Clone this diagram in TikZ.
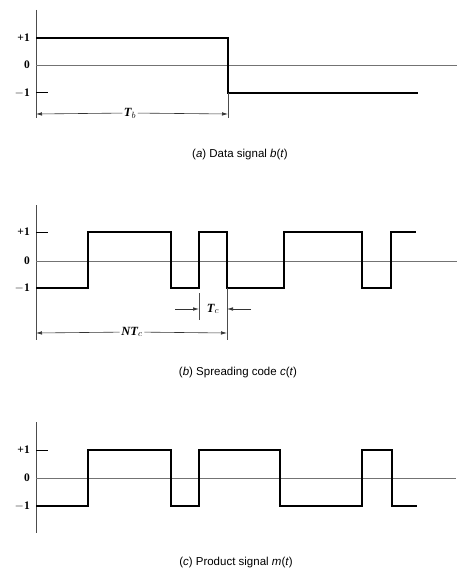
\documentclass[tikz,border=0pt]{standalone}
\usepackage{fontspec}
\setmainfont{Liberation Serif}
\newfontfamily\capfont{Liberation Sans}
\usetikzlibrary{arrows.meta}
\begin{document}
\begin{tikzpicture}[x=1pt,y=-1pt,
  axisline/.style={draw=black!70,line width=0.7pt},
  zeroline/.style={draw=black!55,line width=0.6pt},
  sig/.style={draw=black,line width=1.8pt,line join=miter},
  tickl/.style={draw=black,line width=1pt},
  dim/.style={draw=black!80,line width=0.6pt,-{Latex[length=6pt,width=3.5pt]}},
  vlab/.style={font=\fontsize{11.5}{13}\selectfont\bfseries,anchor=east,inner sep=1pt},
  caplab/.style={font=\capfont\fontsize{11.5}{13}\selectfont},
  dimlab/.style={font=\fontsize{12.5}{14}\selectfont\itshape\bfseries,fill=white,inner sep=1.5pt}]
\useasboundingbox (0,0) rectangle (462,577);
% ---------- (a) ----------
\draw[axisline] (36,10) -- (36,118);
\draw[zeroline] (36,65) -- (457,65);
\node[vlab] (ap) at (31,38) {+1};
\node[vlab] (az) at (31,65) {0};
\node[vlab] (am) at (31,93) {$-$1};
\draw[tickl] (36,93) -- (48,93);
\draw[sig] (36,38) -- (228,38) -- (228,93) -- (418,93);
\draw[axisline] (228,93) -- (228,118);
\coordinate (tbL) at (36,114);
\coordinate (tbR) at (228,114);
\node[dimlab] (tb) at (130,113) {T$_b$};
\draw[dim] (tb) -- (tbL);
\draw[dim] (tb) -- (tbR);
\node[caplab] (capa) at (240,155) {(\textit{a}) Data signal \textit{b}(\textit{t})};
% ---------- (b) ----------
\draw[axisline] (36,205) -- (36,340);
\draw[zeroline] (36,261) -- (457,261);
\node[vlab] (bp) at (31,232) {+1};
\node[vlab] (bz) at (31,261) {0};
\node[vlab] (bm) at (31,288) {$-$1};
\draw[tickl] (36,232) -- (48,232);
\draw[sig] (36,288) -- (88,288) -- (88,232) -- (171,232) -- (171,288) -- (199,288) -- (199,232) -- (227,232) -- (227,288) -- (284,288) -- (284,232) -- (362,232) -- (362,288) -- (391,288) -- (391,232) -- (416,232);
\draw[axisline] (199,293) -- (199,320);
\draw[axisline] (227,288) -- (227,340);
\coordinate (tcL) at (199,309);
\coordinate (tcR) at (227,309);
\coordinate (tcLs) at (175,309);
\coordinate (tcRs) at (251,309);
\draw[dim] (tcLs) -- (tcL);
\draw[dim] (tcRs) -- (tcR);
\node[font=\fontsize{12.5}{14}\selectfont\itshape\bfseries] (tc) at (213,309) {T$_c$};
\coordinate (ntL) at (36,333);
\coordinate (ntR) at (227,333);
\node[dimlab] (nt) at (132,332) {NT$_c$};
\draw[dim] (nt) -- (ntL);
\draw[dim] (nt) -- (ntR);
\node[caplab] (capb) at (238,373) {(\textit{b}) Spreading code \textit{c}(\textit{t})};
% ---------- (c) ----------
\draw[axisline] (36,422) -- (36,533);
\draw[zeroline] (36,478) -- (456,478);
\node[vlab] (cp) at (31,450) {+1};
\node[vlab] (cz) at (31,478) {0};
\node[vlab] (cm) at (31,506) {$-$1};
\draw[tickl] (36,450) -- (48,450);
\draw[sig] (36,506) -- (88,506) -- (88,450) -- (171,450) -- (171,506) -- (199,506) -- (199,450) -- (280,450) -- (280,506) -- (362,506) -- (362,450) -- (392,450) -- (392,506) -- (417,506);
\node[caplab] (capc) at (236,563) {(\textit{c}) Product signal \textit{m}(\textit{t})};
\end{tikzpicture}
\end{document}
